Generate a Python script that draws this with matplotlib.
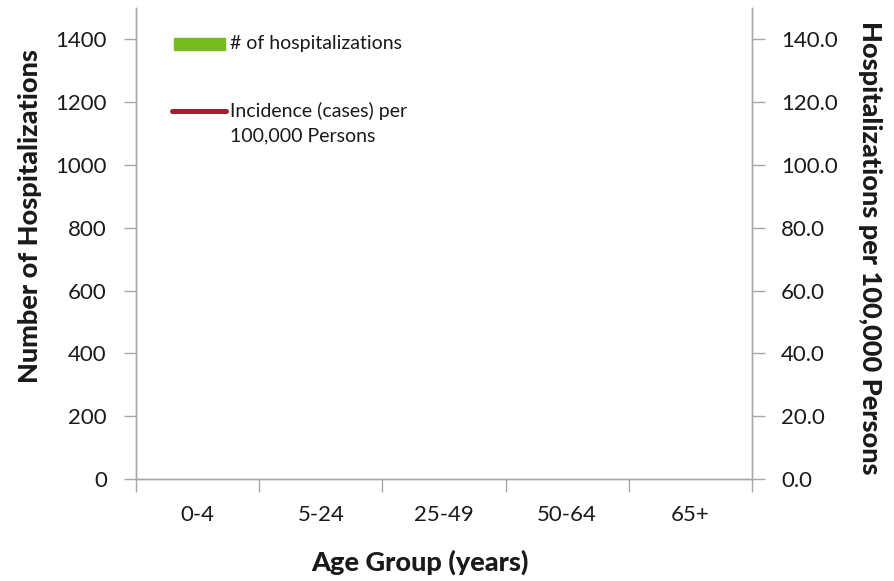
import matplotlib
matplotlib.use("Agg")
import matplotlib.pyplot as plt
import numpy as np
from matplotlib.patches import Rectangle

# Data: the reference chart shows no bars and no line, only the axes and legend
age_groups = ["0-4", "5-24", "25-49", "50-64", "65+"]
hospitalizations = [np.nan, np.nan, np.nan, np.nan, np.nan]
incidence = [np.nan, np.nan, np.nan, np.nan, np.nan]

left_ticks = [0, 200, 400, 600, 800, 1000, 1200, 1400]
right_ticks = [0, 20, 40, 60, 80, 100, 120, 140]

GREEN = "#77bc1f"
RED = "#a91b30"
SPINE = "#a6a6a6"
TEXT = "#1a1a1a"

plt.rcParams["font.family"] = ["Lato", "DejaVu Sans"]

fig = plt.figure(figsize=(8.94, 5.81), dpi=100)
ax = fig.add_axes([0.1521, 0.1756, 0.6891, 0.8106])
ax2 = ax.twinx()

x = np.arange(len(age_groups))
ax.bar(x, hospitalizations, width=0.6, color=GREEN)
ax2.plot(x, incidence, color=RED, linewidth=3.6)

ax.set_xlim(-0.5, len(age_groups) - 0.5)
ax.set_ylim(0, 1500)
ax2.set_ylim(0, 150)

# category boundaries as major ticks, labels centred on the minor ticks
ax.set_xticks(np.arange(-0.5, len(age_groups), 1))
ax.set_xticklabels([])
ax.set_xticks(x, minor=True)
ax.set_xticklabels(age_groups, minor=True)
ax.tick_params(axis="x", which="major", length=9, width=1, color=SPINE)
ax.tick_params(axis="x", which="minor", length=0, pad=19, labelsize=16, labelcolor=TEXT)

ax.set_yticks(left_ticks)
ax.set_yticklabels([str(v) for v in left_ticks])
ax.tick_params(axis="y", length=9, width=1, color=SPINE, pad=12, labelsize=16, labelcolor=TEXT)

ax2.set_yticks(right_ticks)
ax2.set_yticklabels([f"{v:.1f}" for v in right_ticks])
ax2.tick_params(axis="y", length=9, width=1, color=SPINE, pad=12, labelsize=16, labelcolor=TEXT)

for a in (ax, ax2):
    for side in ("left", "right", "bottom"):
        a.spines[side].set_color(SPINE)
        a.spines[side].set_linewidth(1)
    a.spines["top"].set_visible(False)

label_font = dict(fontsize=19.5, fontweight=900, color=TEXT)
ax.set_xlabel("Age Group (years)", **label_font)
ax.xaxis.set_label_coords(0.461, -0.150)
ax.set_ylabel("Number of Hospitalizations", **label_font)
ax.yaxis.set_label_coords(-0.153, 0.559)
ax2.set_ylabel("Hospitalizations per 100,000 Persons", rotation=270, va="bottom", **label_font)
ax2.yaxis.set_label_coords(1.172, 0.49)

# hand-placed legend, matching the spreadsheet layout
ax.add_patch(Rectangle((0.061, 0.911), 0.083, 0.025, transform=ax.transAxes,
                       color=GREEN, clip_on=False))
ax.text(0.153, 0.924, "# of hospitalizations", transform=ax.transAxes,
        fontsize=14, color=TEXT, va="center", ha="left")
ax.plot([0.059, 0.146], [0.782, 0.782], transform=ax.transAxes, color=RED,
        linewidth=3.6, solid_capstyle="round", clip_on=False)
ax.text(0.153, 0.801, "Incidence (cases) per\n100,000 Persons", transform=ax.transAxes,
        fontsize=14, color=TEXT, va="top", ha="left", linespacing=1.55)

fig.savefig("out.png", dpi=100)
